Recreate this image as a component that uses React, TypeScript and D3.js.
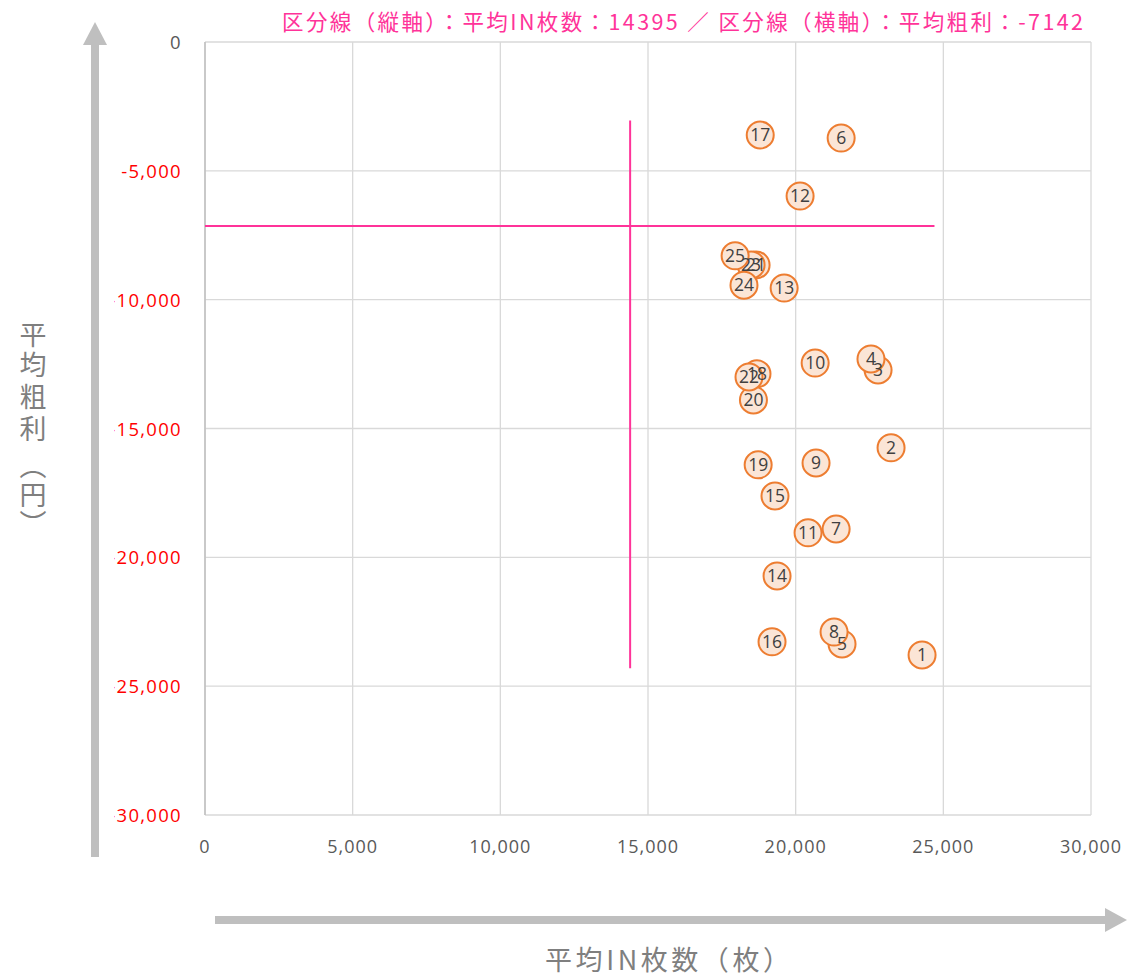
import React from "react";
import * as d3 from "d3";

const ids = ["1","2","3","4","5","6","7","8","9","10","11","12","13","14","15","16","17","18","19","20","21","22","23","24","25"];
const inCounts = [24280,23230,22790,22550,21570,21540,21370,21300,20690,20660,20420,20150,19610,19370,19300,19200,18800,18690,18730,18570,18660,18420,18490,18250,17950];
const grossProfit = [-23790,-15750,-12730,-12300,-23360,-3730,-18900,-22900,-16340,-12460,-19050,-5980,-9550,-20720,-17620,-23280,-3610,-12880,-16410,-13890,-8650,-13000,-8650,-9440,-8300];

const xTicks = [0,5000,10000,15000,20000,25000,30000];
const yTicks = [0,-5000,-10000,-15000,-20000,-25000,-30000];

const avgIn = 14395;
const avgProfit = -7142;
const vLineRange = [-3050, -24300];
const hLineRange = [0, 24700];

const titleText = "区分線（縦軸）：平均IN枚数：14395 ／ 区分線（横軸）：平均粗利：-7142";
const xAxisTitle = "平均IN枚数（枚）";
const yAxisChars = ["平", "均", "粗", "利", "︵", "円", "︶"];
const yAxisCharPos = [333, 363, 395, 427, 464, 493, 522];

const W = 1127, H = 977;
const L = 205, R = 1091, T = 42, B = 815;
const PINK = "#FF3399";
const FONT = "'Open Sans', 'Noto Sans CJK JP', sans-serif";
const JFONT = "'Noto Sans CJK JP', sans-serif";

export default function App() {
  const x = d3.scaleLinear().domain([0, 30000]).range([L, R]);
  const y = d3.scaleLinear().domain([0, -30000]).range([T, B]);
  const fmt = d3.format(",");
  const order = d3.range(ids.length);
  return (
    <svg width={W} height={H} style={{ position: "absolute", left: 0, top: 0, background: "#fff" }}>
      <defs>
        <clipPath id="ytickclip">
          <rect x={114} y={0} width={200} height={H} />
        </clipPath>
      </defs>
      {/* grid */}
      {xTicks.map((t) => (
        <line key={"gx" + t} x1={x(t)} x2={x(t)} y1={T} y2={B} stroke="#D9D9D9" strokeWidth={1.3} />
      ))}
      {yTicks.map((t) => (
        <line key={"gy" + t} x1={L} x2={R} y1={y(t)} y2={y(t)} stroke="#D9D9D9" strokeWidth={1.3} />
      ))}
      <line x1={L} x2={L} y1={T} y2={B} stroke="#BFBFBF" strokeWidth={1.5} />
      {/* x tick labels */}
      {xTicks.map((t) => (
        <text key={"tx" + t} x={x(t)} y={853} textAnchor="middle" fontSize={18} letterSpacing={1} fill="#595959" fontFamily={FONT}>
          {fmt(t)}
        </text>
      ))}
      {/* y tick labels */}
      <g clipPath="url(#ytickclip)">
        {yTicks.map((t) => (
          <text key={"ty" + t} x={182} y={y(t) + 7} textAnchor="end" fontSize={18.5} letterSpacing={1.3} fill={t === 0 ? "#595959" : "#FF0000"} fontFamily={FONT}>
            {t === 0 ? "0" : "-" + fmt(-t)}
          </text>
        ))}
      </g>
      {/* divider lines */}
      <line x1={x(avgIn)} x2={x(avgIn)} y1={y(vLineRange[0])} y2={y(vLineRange[1])} stroke={PINK} strokeWidth={2} />
      <line x1={x(hLineRange[0])} x2={x(hLineRange[1])} y1={y(avgProfit)} y2={y(avgProfit)} stroke={PINK} strokeWidth={2} />
      {/* points */}
      {order.map((i) => (
        <circle key={"p" + i} cx={x(inCounts[i])} cy={y(grossProfit[i])} r={13.5} fill="#FBE5D6" stroke="#ED7D31" strokeWidth={2} />
      ))}
      {order.map((i) => (
        <text key={"l" + i} x={x(inCounts[i])} y={y(grossProfit[i]) + 6} textAnchor="middle" fontSize={17.5} fill="#404040" fontFamily={FONT}>
          {ids[i]}
        </text>
      ))}
      {/* title */}
      <text x={282} y={30} textLength={801} lengthAdjust="spacing" fontSize={21.5} fill={PINK} fontFamily={JFONT}>
        {titleText}
      </text>
      {/* arrows */}
      <rect x={91} y={44} width={8} height={813} fill="#BFBFBF" />
      <path d="M95,22 L107,45 L83,45 Z" fill="#BFBFBF" />
      <rect x={215} y={916} width={895} height={8} fill="#BFBFBF" />
      <path d="M1127,920 L1105,908 L1105,932 Z" fill="#BFBFBF" />
      {/* axis titles */}
      <text x={545} y={970} textLength={245} lengthAdjust="spacing" fontSize={27} fill="#7F7F7F" fontFamily={JFONT}>
        {xAxisTitle}
      </text>
      {yAxisChars.map((c, i) => (
        <text
          key={"ya" + i}
          x={33}
          y={yAxisCharPos[i]}
          textAnchor="middle"
          dominantBaseline="central"
          fontSize={27}
          fill="#7F7F7F"
          fontFamily={JFONT}
        >
          {c}
        </text>
      ))}
    </svg>
  );
}
